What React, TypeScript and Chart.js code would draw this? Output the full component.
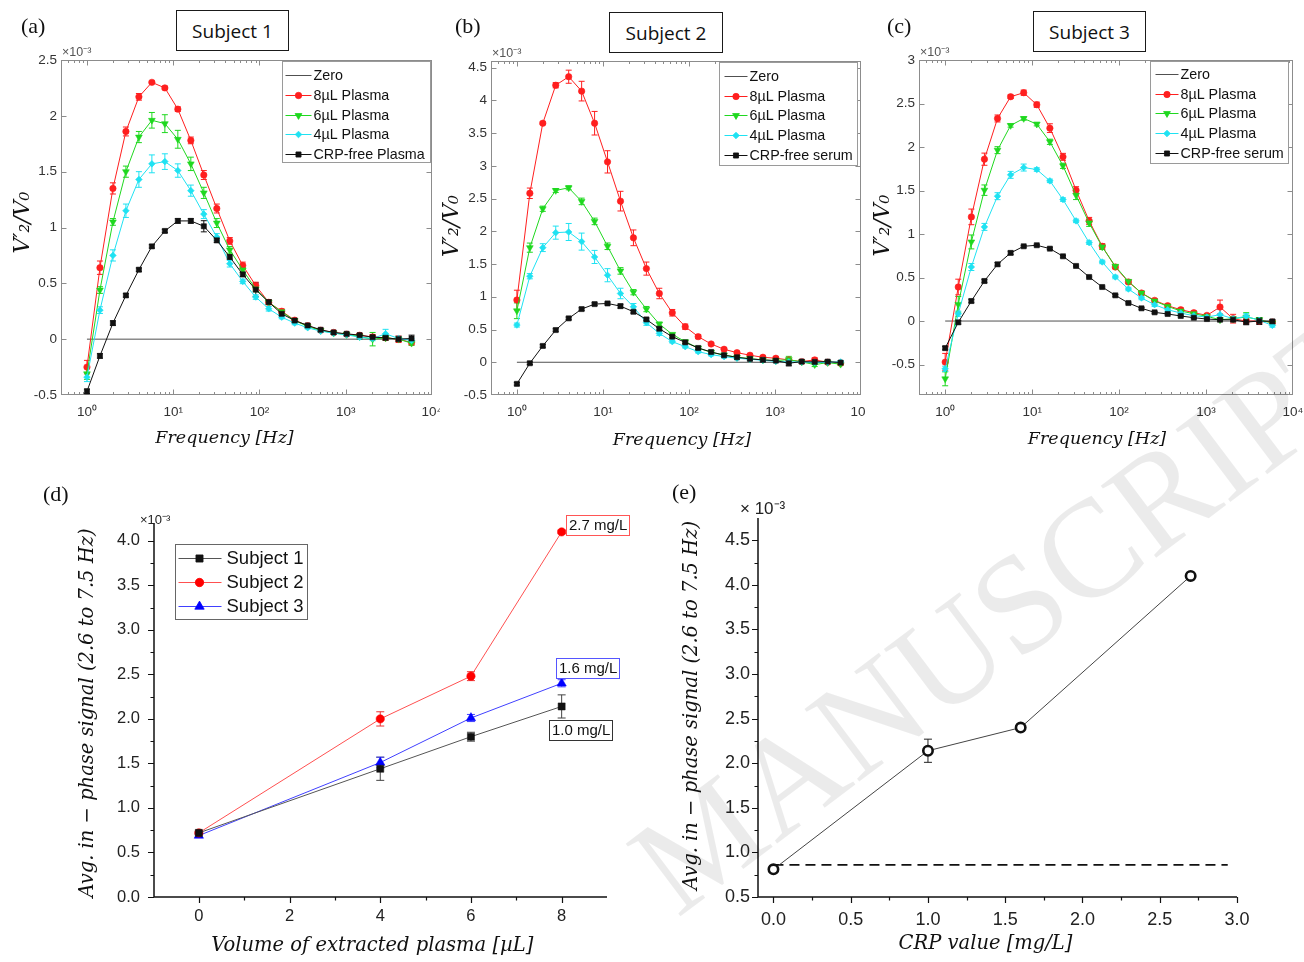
import React, { useEffect, useRef } from "react";
import { Chart, registerables } from "chart.js";

Chart.register(...registerables);

// ======================= DATA (values in units of 10^-3) =======================
const FREQ_HZ = [1, 1.414, 2, 2.828, 4, 5.657, 8, 11.31, 16, 22.63, 32, 45.25, 64, 90.51, 128, 181, 256, 362, 512, 724, 1024, 1448, 2048, 2896, 4096, 5793];
const FREQ_TICKS = [1, 10, 100, 1000, 10000];
const FREQ_TICK_LABELS = ["10⁰", "10¹", "10²", "10³", "10⁴"];
const ZERO_X = [1, 5793];
const ZERO_Y = [0, 0];

const LABELS_SUBJECT1 = ["Zero", "8µL Plasma", "6µL Plasma", "4µL Plasma", "CRP-free Plasma"];
const LABELS_SUBJECT23 = ["Zero", "8µL Plasma", "6µL Plasma", "4µL Plasma", "CRP-free serum"];

// Subject 1
const S1_8UL = [-0.25, 0.64, 1.35, 1.86, 2.17, 2.3, 2.25, 2.06, 1.78, 1.47, 1.17, 0.88, 0.66, 0.48, 0.33, 0.25, 0.17, 0.12, 0.08, 0.06, 0.045, 0.035, 0.02, 0.012, 0.0, -0.03];
const S1_8UL_ERR = [0.06, 0.06, 0.05, 0.04, 0.03, 0.01, 0.015, 0.02, 0.03, 0.04, 0.04, 0.03, 0.03, 0.03, 0.02, 0.02, 0.015, 0.015, 0.01, 0.01, 0.01, 0.015, 0.02, 0.02, 0.03, 0.02];
const S1_6UL = [-0.31, 0.44, 1.05, 1.5, 1.81, 1.96, 1.93, 1.79, 1.57, 1.31, 1.04, 0.8, 0.62, 0.45, 0.33, 0.245, 0.167, 0.114, 0.078, 0.054, 0.042, 0.024, 0.0, 0.012, 0.0, -0.036];
const S1_6UL_ERR = [0.05, 0.03, 0.03, 0.05, 0.05, 0.07, 0.08, 0.08, 0.06, 0.05, 0.04, 0.03, 0.02, 0.02, 0.02, 0.02, 0.015, 0.015, 0.01, 0.01, 0.01, 0.02, 0.06, 0.02, 0.02, 0.02];
const S1_4UL = [-0.34, 0.26, 0.75, 1.15, 1.43, 1.57, 1.59, 1.51, 1.33, 1.12, 0.915, 0.676, 0.517, 0.377, 0.272, 0.197, 0.144, 0.102, 0.072, 0.054, 0.039, 0.018, 0.006, 0.048, 0.006, -0.012];
const S1_4UL_ERR = [0.04, 0.03, 0.05, 0.06, 0.07, 0.08, 0.07, 0.06, 0.05, 0.04, 0.03, 0.03, 0.02, 0.02, 0.02, 0.015, 0.015, 0.01, 0.01, 0.01, 0.01, 0.02, 0.02, 0.04, 0.02, 0.02];
const S1_FREE = [-0.467, -0.15, 0.144, 0.392, 0.622, 0.831, 0.969, 1.059, 1.059, 1.011, 0.885, 0.736, 0.58, 0.443, 0.332, 0.227, 0.167, 0.123, 0.084, 0.06, 0.048, 0.036, 0.018, 0.012, 0.0, 0.006];
const S1_FREE_ERR = [0.02, 0.02, 0.02, 0.015, 0.015, 0.015, 0.015, 0.02, 0.02, 0.05, 0.02, 0.02, 0.02, 0.06, 0.02, 0.015, 0.015, 0.01, 0.01, 0.01, 0.01, 0.01, 0.01, 0.02, 0.02, 0.03];

// Subject 2
const S2_8UL = [0.95, 2.58, 3.65, 4.23, 4.36, 4.14, 3.65, 3.06, 2.46, 1.9, 1.43, 1.05, 0.756, 0.543, 0.391, 0.279, 0.198, 0.147, 0.107, 0.076, 0.061, 0.036, 0.01, 0.036, 0.0, -0.015];
const S2_8UL_ERR = [0.15, 0.08, 0.02, 0.04, 0.1, 0.15, 0.18, 0.17, 0.15, 0.12, 0.1, 0.08, 0.05, 0.04, 0.03, 0.02, 0.02, 0.02, 0.02, 0.02, 0.02, 0.02, 0.02, 0.03, 0.02, 0.02];
const S2_6UL = [0.786, 1.75, 2.344, 2.623, 2.664, 2.456, 2.151, 1.771, 1.395, 1.07, 0.812, 0.583, 0.426, 0.315, 0.218, 0.152, 0.112, 0.076, 0.056, 0.036, 0.025, 0.04, 0.005, -0.036, -0.005, -0.03];
const S2_6UL_ERR = [0.12, 0.07, 0.04, 0.03, 0.03, 0.05, 0.05, 0.05, 0.05, 0.04, 0.04, 0.03, 0.02, 0.02, 0.02, 0.02, 0.02, 0.02, 0.02, 0.02, 0.02, 0.05, 0.02, 0.03, 0.02, 0.02];
const S2_4UL = [0.568, 1.314, 1.75, 1.979, 1.989, 1.842, 1.608, 1.329, 1.05, 0.847, 0.604, 0.441, 0.315, 0.238, 0.162, 0.117, 0.086, 0.061, 0.046, 0.03, 0.015, 0.005, 0.005, -0.005, 0.0, 0.005];
const S2_4UL_ERR = [0.03, 0.04, 0.06, 0.1, 0.13, 0.13, 0.1, 0.1, 0.08, 0.05, 0.04, 0.03, 0.02, 0.02, 0.02, 0.02, 0.02, 0.02, 0.02, 0.02, 0.02, 0.02, 0.02, 0.02, 0.02, 0.02];
const S2_FREE = [-0.33, -0.015, 0.249, 0.492, 0.67, 0.812, 0.888, 0.898, 0.857, 0.771, 0.654, 0.512, 0.391, 0.304, 0.218, 0.157, 0.107, 0.076, 0.051, 0.036, 0.025, -0.015, 0.01, 0.005, 0.01, -0.005];
const S2_FREE_ERR = [0.02, 0.02, 0.02, 0.02, 0.02, 0.02, 0.02, 0.02, 0.03, 0.02, 0.02, 0.02, 0.02, 0.02, 0.02, 0.02, 0.02, 0.02, 0.02, 0.02, 0.02, 0.04, 0.02, 0.02, 0.02, 0.02];

// Subject 3
const S3_8UL = [-0.472, 0.391, 1.197, 1.86, 2.328, 2.578, 2.624, 2.486, 2.217, 1.887, 1.504, 1.151, 0.859, 0.621, 0.449, 0.322, 0.238, 0.176, 0.13, 0.096, 0.065, 0.161, 0.027, 0.0, 0.0, -0.012];
const S3_8UL_ERR = [0.1, 0.09, 0.09, 0.07, 0.04, 0.02, 0.03, 0.03, 0.05, 0.04, 0.04, 0.04, 0.03, 0.02, 0.02, 0.02, 0.02, 0.02, 0.02, 0.02, 0.02, 0.08, 0.05, 0.03, 0.03, 0.02];
const S3_6UL = [-0.664, 0.192, 0.909, 1.504, 1.964, 2.248, 2.328, 2.263, 2.06, 1.784, 1.446, 1.128, 0.852, 0.629, 0.456, 0.322, 0.23, 0.169, 0.115, 0.084, 0.054, 0.015, 0.027, 0.046, 0.015, -0.023];
const S3_6UL_ERR = [0.08, 0.09, 0.08, 0.06, 0.04, 0.02, 0.02, 0.02, 0.03, 0.03, 0.05, 0.04, 0.03, 0.02, 0.02, 0.02, 0.02, 0.02, 0.02, 0.02, 0.02, 0.02, 0.02, 0.05, 0.02, 0.02];
const S3_4UL = [-0.549, 0.084, 0.621, 1.082, 1.435, 1.68, 1.764, 1.741, 1.611, 1.396, 1.151, 0.901, 0.679, 0.506, 0.368, 0.265, 0.188, 0.13, 0.092, 0.061, 0.046, 0.073, 0.027, 0.054, 0.008, -0.05];
const S3_4UL_ERR = [0.03, 0.03, 0.04, 0.04, 0.04, 0.04, 0.04, 0.02, 0.02, 0.02, 0.02, 0.02, 0.02, 0.02, 0.02, 0.02, 0.02, 0.02, 0.02, 0.02, 0.02, 0.06, 0.02, 0.03, 0.02, 0.02];
const S3_FREE = [-0.311, -0.015, 0.23, 0.46, 0.652, 0.783, 0.859, 0.871, 0.832, 0.744, 0.633, 0.506, 0.391, 0.295, 0.207, 0.146, 0.1, 0.081, 0.058, 0.038, 0.023, 0.015, 0.015, -0.012, 0.0, -0.004];
const S3_FREE_ERR = [0.02, 0.02, 0.02, 0.02, 0.02, 0.02, 0.01, 0.01, 0.01, 0.01, 0.01, 0.01, 0.01, 0.01, 0.01, 0.01, 0.01, 0.01, 0.01, 0.01, 0.01, 0.01, 0.02, 0.03, 0.04, 0.02];

const A_Y_TICKS = [-0.5, 0, 0.5, 1, 1.5, 2, 2.5];
const B_Y_TICKS = [-0.5, 0, 0.5, 1, 1.5, 2, 2.5, 3, 3.5, 4, 4.5];
const C_Y_TICKS = [-0.5, 0, 0.5, 1, 1.5, 2, 2.5, 3];

// Panel (d)
const VOLUME_UL = [0, 4, 6, 8];
const D_LABELS = ["Subject 1", "Subject 2", "Subject 3"];
const D_SUBJ1 = [0.72, 1.44, 1.8, 2.14];
const D_SUBJ1_ERR = [0.02, 0.13, 0.05, 0.13];
const D_SUBJ2 = [0.72, 2.0, 2.48, 4.1];
const D_SUBJ2_ERR = [0.01, 0.08, 0.05, 0.02];
const D_SUBJ3 = [0.69, 1.51, 2.01, 2.4];
const D_SUBJ3_ERR = [0.02, 0.06, 0.04, 0.04];
const D_CRP_TAGS = ["1.0 mg/L", "2.7 mg/L", "1.6 mg/L"];
const D_X_TICKS = [0, 2, 4, 6, 8];
const D_X_MINOR = [1, 3, 5, 7];
const D_Y_TICKS = [0, 0.5, 1, 1.5, 2, 2.5, 3, 3.5, 4];
const D_Y_MINOR = [0.25, 0.75, 1.25, 1.75, 2.25, 2.75, 3.25, 3.75];

// Panel (e)
const CRP_MG_L = [0, 1.0, 1.6, 2.7];
const E_SIGNAL = [0.81, 2.14, 2.4, 4.1];
const E_SIGNAL_ERR = [0.02, 0.13, 0.03, 0.02];
const E_BASELINE_X = [0, 2.94];
const E_BASELINE_Y = [0.86, 0.86];
const E_X_TICKS = [0, 0.5, 1, 1.5, 2, 2.5, 3];
const E_X_MINOR = [0.25, 0.75, 1.25, 1.75, 2.25, 2.75];
const E_Y_TICKS = [0.5, 1, 1.5, 2, 2.5, 3, 3.5, 4, 4.5];
const E_Y_MINOR = [0.75, 1.25, 1.75, 2.25, 2.75, 3.25, 3.75, 4.25];

const FREQ_X_TITLE = "Frequency [Hz]";
const FREQ_Y_TITLE = "V′₂/V₀";
const D_X_TITLE = "Volume of extracted plasma [µL]";
const AVG_Y_TITLE = "Avg. in − phase signal (2.6 to 7.5 Hz)";
const E_X_TITLE = "CRP value [mg/L]";

// ======================= STYLE =======================
const SANS = "'Liberation Sans', Arial, Helvetica, sans-serif";
const SERIF_MATH = "'DejaVu Serif', 'Liberation Serif', serif";

type Marker = "circle" | "rect" | "rectRot" | "triangle";

interface SeriesStyle {
  color: string;
  marker: Marker | null;
  radius: number;
  rotation: number;
}

const MATLAB_STYLES: SeriesStyle[] = [
  { color: "#505050", marker: null, radius: 0, rotation: 0 },
  { color: "#ff1f1f", marker: "circle", radius: 3.2, rotation: 0 },
  { color: "#1fd81f", marker: "triangle", radius: 3.9, rotation: 180 },
  { color: "#1fe2f2", marker: "rectRot", radius: 3.3, rotation: 0 },
  { color: "#111111", marker: "rect", radius: 3.6, rotation: 0 },
];

// ======================= DRAW HELPERS =======================
function drawMarker(
  ctx: CanvasRenderingContext2D,
  m: Marker,
  x: number,
  y: number,
  r: number,
  rot: number,
  fill: string,
  stroke: string,
  lw: number
) {
  ctx.save();
  ctx.translate(x, y);
  ctx.rotate((rot * Math.PI) / 180);
  ctx.beginPath();
  if (m === "circle") ctx.arc(0, 0, r, 0, Math.PI * 2);
  else if (m === "rect") {
    const s = r * Math.SQRT1_2;
    ctx.rect(-s, -s, 2 * s, 2 * s);
  } else if (m === "rectRot") {
    ctx.moveTo(0, -r);
    ctx.lineTo(r, 0);
    ctx.lineTo(0, r);
    ctx.lineTo(-r, 0);
    ctx.closePath();
  } else {
    ctx.moveTo(0, -r);
    ctx.lineTo(r * 0.866, r * 0.5);
    ctx.lineTo(-r * 0.866, r * 0.5);
    ctx.closePath();
  }
  ctx.fillStyle = fill;
  ctx.fill();
  if (lw > 0) {
    ctx.strokeStyle = stroke;
    ctx.lineWidth = lw;
    ctx.stroke();
  }
  ctx.restore();
}

interface ErrSet {
  index: number;
  errors: number[];
  color: string;
  cap: number;
  width: number;
}

function errorBarsPlugin(sets: ErrSet[]) {
  return {
    id: "errorBars",
    beforeDatasetsDraw(chart: any) {
      const ctx: CanvasRenderingContext2D = chart.ctx;
      const ys = chart.scales.y;
      ctx.save();
      for (const s of sets) {
        const meta = chart.getDatasetMeta(s.index);
        const data = chart.data.datasets[s.index].data;
        meta.data.forEach((pt: any, i: number) => {
          const e = s.errors[i];
          if (!e) return;
          const v = data[i].y;
          const yT = ys.getPixelForValue(v + e);
          const yB = ys.getPixelForValue(v - e);
          ctx.strokeStyle = s.color;
          ctx.lineWidth = s.width;
          ctx.beginPath();
          ctx.moveTo(pt.x, yT);
          ctx.lineTo(pt.x, yB);
          ctx.moveTo(pt.x - s.cap, yT);
          ctx.lineTo(pt.x + s.cap, yT);
          ctx.moveTo(pt.x - s.cap, yB);
          ctx.lineTo(pt.x + s.cap, yB);
          ctx.stroke();
        });
      }
      ctx.restore();
    },
  };
}

function matlabAxesPlugin() {
  return {
    id: "matlabAxes",
    beforeDatasetsDraw(chart: any) {
      const ctx: CanvasRenderingContext2D = chart.ctx;
      const a = chart.chartArea;
      const xs = chart.scales.x;
      const ys = chart.scales.y;
      const L = Math.round(a.left) + 0.5;
      const R = Math.round(a.right) - 0.5;
      const T = Math.round(a.top) + 0.5;
      const B = Math.round(a.bottom) - 0.5;
      ctx.save();
      ctx.strokeStyle = "#8c8c8c";
      ctx.lineWidth = 1;
      ctx.strokeRect(L, T, R - L, B - T);
      ctx.beginPath();
      const major = 5;
      const minor = 2.5;
      for (const v of FREQ_TICKS) {
        const px = Math.round(xs.getPixelForValue(v)) + 0.5;
        if (px <= L + 1 || px >= R - 1) continue;
        ctx.moveTo(px, B);
        ctx.lineTo(px, B - major);
        ctx.moveTo(px, T);
        ctx.lineTo(px, T + major);
      }
      for (const d of [0.1, 1, 10, 100, 1000]) {
        for (let m = 2; m <= 9; m++) {
          const v = d * m;
          if (v <= xs.min || v >= xs.max) continue;
          const px = Math.round(xs.getPixelForValue(v)) + 0.5;
          ctx.moveTo(px, B);
          ctx.lineTo(px, B - minor);
          ctx.moveTo(px, T);
          ctx.lineTo(px, T + minor);
        }
      }
      ys.ticks.forEach((t: any) => {
        const py = Math.round(ys.getPixelForValue(t.value)) + 0.5;
        if (py <= T + 1 || py >= B - 1) return;
        ctx.moveTo(L, py);
        ctx.lineTo(L + major, py);
        ctx.moveTo(R, py);
        ctx.lineTo(R - major, py);
      });
      ctx.stroke();
      ctx.restore();
    },
  };
}

function originAxesPlugin(xMinor: number[], yMinor: number[]) {
  return {
    id: "originAxes",
    beforeDatasetsDraw(chart: any) {
      const ctx: CanvasRenderingContext2D = chart.ctx;
      const a = chart.chartArea;
      const xs = chart.scales.x;
      const ys = chart.scales.y;
      const L = Math.round(a.left);
      const B = Math.round(a.bottom);
      ctx.save();
      ctx.strokeStyle = "#111";
      ctx.lineWidth = 1.5;
      ctx.beginPath();
      ctx.moveTo(L, a.top);
      ctx.lineTo(L, B);
      ctx.lineTo(a.right, B);
      ctx.stroke();
      ctx.lineWidth = 1.2;
      ctx.beginPath();
      xs.ticks.forEach((t: any) => {
        const px = Math.round(xs.getPixelForValue(t.value)) + 0.5;
        ctx.moveTo(px, B);
        ctx.lineTo(px, B + 6);
      });
      xMinor.forEach((v) => {
        const px = Math.round(xs.getPixelForValue(v)) + 0.5;
        ctx.moveTo(px, B);
        ctx.lineTo(px, B + 3.5);
      });
      ys.ticks.forEach((t: any) => {
        const py = Math.round(ys.getPixelForValue(t.value)) + 0.5;
        ctx.moveTo(L, py);
        ctx.lineTo(L - 6, py);
      });
      yMinor.forEach((v) => {
        const py = Math.round(ys.getPixelForValue(v)) + 0.5;
        ctx.moveTo(L, py);
        ctx.lineTo(L - 3.5, py);
      });
      ctx.stroke();
      ctx.restore();
    },
  };
}

interface TitleCfg {
  xText: string;
  xFont: string;
  xDx: number;
  xDy: number;
  yText: string;
  yFont: string;
  yX: number;
  yDy: number;
}

// Axis titles placed relative to the chart area computed by Chart.js
function axisTitlesPlugin(cfg: TitleCfg) {
  return {
    id: "axisTitles",
    afterDraw(chart: any) {
      const ctx: CanvasRenderingContext2D = chart.ctx;
      const a = chart.chartArea;
      ctx.save();
      ctx.fillStyle = "#111";
      ctx.textAlign = "center";
      ctx.textBaseline = "middle";
      ctx.font = cfg.xFont;
      ctx.fillText(cfg.xText, (a.left + a.right) / 2 + cfg.xDx, a.bottom + cfg.xDy);
      ctx.translate(cfg.yX, (a.top + a.bottom) / 2 + cfg.yDy);
      ctx.rotate(-Math.PI / 2);
      ctx.font = cfg.yFont;
      ctx.fillText(cfg.yText, 0, 0);
      ctx.restore();
    },
  };
}

interface LegendItem {
  label: string;
  lineColor: string;
  markerColor: string;
  marker: Marker | null;
  radius: number;
  rotation: number;
}

interface LegendCfg {
  items: LegendItem[];
  fromRight: boolean;
  dx: number;
  dy: number;
  w: number;
  h: number;
  rowY: number[];
  lineX: [number, number];
  markerX: number;
  textX: number;
  font: string;
  border: string;
}

function boxLegendPlugin(cfg: LegendCfg) {
  return {
    id: "boxLegend",
    afterDatasetsDraw(chart: any) {
      const ctx: CanvasRenderingContext2D = chart.ctx;
      const a = chart.chartArea;
      const x0 = Math.round(cfg.fromRight ? a.right - cfg.dx - cfg.w : a.left + cfg.dx) + 0.5;
      const y0 = Math.round(a.top + cfg.dy) + 0.5;
      ctx.save();
      ctx.fillStyle = "#ffffff";
      ctx.fillRect(x0, y0, cfg.w, cfg.h);
      ctx.strokeStyle = cfg.border;
      ctx.lineWidth = 1;
      ctx.strokeRect(x0, y0, cfg.w, cfg.h);
      cfg.items.forEach((it, i) => {
        const y = y0 + cfg.rowY[i];
        ctx.strokeStyle = it.lineColor;
        ctx.lineWidth = 1;
        ctx.beginPath();
        ctx.moveTo(x0 + cfg.lineX[0], y);
        ctx.lineTo(x0 + cfg.lineX[1], y);
        ctx.stroke();
        if (it.marker) drawMarker(ctx, it.marker, x0 + cfg.markerX, y, it.radius, it.rotation, it.markerColor, it.markerColor, 0.8);
        ctx.fillStyle = "#111";
        ctx.font = cfg.font;
        ctx.textAlign = "left";
        ctx.textBaseline = "middle";
        ctx.fillText(it.label, x0 + cfg.textX, y + 0.5);
      });
      ctx.restore();
    },
  };
}

function exponentPlugin(text: string, dx: number, dy: number, font: string, color: string) {
  return {
    id: "exponentLabel",
    afterDraw(chart: any) {
      const ctx: CanvasRenderingContext2D = chart.ctx;
      const a = chart.chartArea;
      ctx.save();
      ctx.font = font;
      ctx.fillStyle = color;
      ctx.textAlign = "left";
      ctx.textBaseline = "alphabetic";
      ctx.fillText(text, a.left + dx, a.top + dy);
      ctx.restore();
    },
  };
}

interface PointTag {
  dataset: number;
  index: number;
  text: string;
  color: string;
  dx: number;
  dy: number;
}

function pointTagPlugin(tags: PointTag[], font: string) {
  return {
    id: "pointTags",
    afterDatasetsDraw(chart: any) {
      const ctx: CanvasRenderingContext2D = chart.ctx;
      ctx.save();
      ctx.font = font;
      for (const t of tags) {
        const pt = chart.getDatasetMeta(t.dataset).data[t.index];
        const tw = ctx.measureText(t.text).width;
        const w = Math.round(tw + 5);
        const h = 20;
        const x0 = Math.round(pt.x + t.dx) + 0.5;
        const y0 = Math.round(pt.y + t.dy) + 0.5;
        ctx.fillStyle = "#fff";
        ctx.fillRect(x0, y0, w, h);
        ctx.strokeStyle = t.color;
        ctx.lineWidth = 1;
        ctx.strokeRect(x0, y0, w, h);
        ctx.fillStyle = "#111";
        ctx.textAlign = "left";
        ctx.textBaseline = "middle";
        ctx.fillText(t.text, x0 + 2.5, y0 + h / 2 + 0.5);
      }
      ctx.restore();
    },
  };
}

// ======================= CONFIG BUILDERS =======================
interface Layout {
  padTop: number;
  padRight: number;
  yAxisW: number;
  xAxisH: number;
}

function hiddenTitle() {
  return { display: false };
}

function freqPanelConfig(p: {
  labels: string[];
  values: number[][];
  errors: number[][];
  yMin: number;
  yMax: number;
  yTicks: number[];
  layout: Layout;
  titles: { xDx: number; xDy: number; yX: number; yDy: number };
  legendDx: number;
  legendW: number;
  legendH: number;
  legendRows: number[];
  legendLine: [number, number];
}) {
  const n = p.labels.length;
  const datasets = p.labels.map((label, i) => {
    const st = MATLAB_STYLES[i];
    const xs = i === 0 ? ZERO_X : FREQ_HZ;
    const ys = i === 0 ? ZERO_Y : p.values[i - 1];
    return {
      label,
      data: xs.map((f, k) => ({ x: f, y: ys[k] })),
      borderColor: st.color,
      backgroundColor: st.color,
      borderWidth: 1,
      pointRadius: st.marker ? st.radius : 0,
      pointStyle: st.marker || "circle",
      pointRotation: st.rotation,
      pointBackgroundColor: st.color,
      pointBorderColor: st.color,
      pointBorderWidth: 0.6,
      tension: 0,
      fill: false,
      order: n - i,
    };
  });
  const errSets: ErrSet[] = p.errors.map((e, i) => ({
    index: i + 1,
    errors: e,
    color: MATLAB_STYLES[i + 1].color,
    cap: 3,
    width: 1,
  }));
  const legendItems: LegendItem[] = p.labels.map((label, i) => ({
    label,
    lineColor: MATLAB_STYLES[i].color,
    markerColor: MATLAB_STYLES[i].color,
    marker: MATLAB_STYLES[i].marker,
    radius: MATLAB_STYLES[i].radius,
    rotation: MATLAB_STYLES[i].rotation,
  }));
  const L = p.layout;
  return {
    type: "line",
    data: { datasets },
    options: {
      responsive: false,
      animation: false,
      events: [],
      layout: { padding: { top: L.padTop, right: L.padRight, left: 0, bottom: 0 } },
      plugins: { legend: { display: false }, tooltip: { enabled: false } },
      scales: {
        x: {
          type: "logarithmic",
          min: 0.5,
          max: 10000,
          afterBuildTicks: (s: any) => {
            s.ticks = FREQ_TICKS.map((v) => ({ value: v }));
          },
          afterFit: (s: any) => {
            s.height = L.xAxisH;
            s.paddingLeft = 0;
            s.paddingRight = 0;
          },
          grid: { display: false, drawTicks: false },
          border: { display: false },
          ticks: {
            autoSkip: false,
            maxRotation: 0,
            padding: 9,
            color: "#333",
            font: { family: SANS, size: 13.5 },
            callback: (_v: any, idx: number) => FREQ_TICK_LABELS[idx],
          },
          title: hiddenTitle(),
        },
        y: {
          type: "linear",
          min: p.yMin,
          max: p.yMax,
          afterBuildTicks: (s: any) => {
            s.ticks = p.yTicks.map((v) => ({ value: v }));
          },
          afterFit: (s: any) => {
            s.width = L.yAxisW;
            s.paddingTop = 0;
            s.paddingBottom = 0;
          },
          grid: { display: false, drawTicks: false },
          border: { display: false },
          ticks: {
            autoSkip: false,
            padding: 4,
            color: "#333",
            font: { family: SANS, size: 13.5 },
            callback: (v: any) => String(v),
          },
          title: hiddenTitle(),
        },
      },
    },
    plugins: [
      matlabAxesPlugin(),
      errorBarsPlugin(errSets),
      boxLegendPlugin({
        items: legendItems,
        fromRight: true,
        dx: p.legendDx,
        dy: 1,
        w: p.legendW,
        h: p.legendH,
        rowY: p.legendRows,
        lineX: p.legendLine,
        markerX: (p.legendLine[0] + p.legendLine[1]) / 2,
        textX: p.legendLine[1] + 2,
        font: `14.3px ${SANS}`,
        border: "#9a9a9a",
      }),
      exponentPlugin("×10⁻³", 1, -4, `12.5px ${SANS}`, "#555"),
      axisTitlesPlugin({
        xText: FREQ_X_TITLE,
        xFont: `italic 17.5px ${SERIF_MATH}`,
        xDx: p.titles.xDx,
        xDy: p.titles.xDy,
        yText: FREQ_Y_TITLE,
        yFont: `italic 22px ${SERIF_MATH}`,
        yX: p.titles.yX,
        yDy: p.titles.yDy,
      }),
    ],
  };
}

function panelDConfig() {
  const styles = [
    { line: "#555555", mark: "#111111", marker: "rect" as Marker, r: 5, err: "#444" },
    { line: "#ff5050", mark: "#ff0000", marker: "circle" as Marker, r: 4.2, err: "#e33" },
    { line: "#4040ff", mark: "#0000ff", marker: "triangle" as Marker, r: 5.4, err: "#44f" },
  ];
  const values = [D_SUBJ1, D_SUBJ2, D_SUBJ3];
  const errs = [D_SUBJ1_ERR, D_SUBJ2_ERR, D_SUBJ3_ERR];
  const datasets = D_LABELS.map((label, i) => ({
    label,
    data: VOLUME_UL.map((v, k) => ({ x: v, y: values[i][k] })),
    borderColor: styles[i].line,
    borderWidth: 1,
    pointStyle: styles[i].marker,
    pointRadius: styles[i].r,
    pointBackgroundColor: styles[i].mark,
    pointBorderColor: styles[i].mark,
    pointBorderWidth: 0.5,
    tension: 0,
    fill: false,
  }));
  return {
    type: "line",
    data: { datasets },
    options: {
      responsive: false,
      animation: false,
      events: [],
      layout: { padding: { top: 23, right: 33, left: 0, bottom: 0 } },
      plugins: { legend: { display: false }, tooltip: { enabled: false } },
      scales: {
        x: {
          type: "linear",
          min: -1,
          max: 9,
          afterBuildTicks: (s: any) => {
            s.ticks = D_X_TICKS.map((v) => ({ value: v }));
          },
          afterFit: (s: any) => {
            s.height = 65;
            s.paddingLeft = 0;
            s.paddingRight = 0;
          },
          grid: { display: false, drawTicks: false },
          border: { display: false },
          ticks: {
            autoSkip: false,
            maxRotation: 0,
            padding: 10,
            color: "#222",
            font: { family: SANS, size: 16.5 },
            callback: (v: any) => String(v),
          },
          title: hiddenTitle(),
        },
        y: {
          type: "linear",
          min: 0,
          max: 4.2,
          afterBuildTicks: (s: any) => {
            s.ticks = D_Y_TICKS.map((v) => ({ value: v }));
          },
          afterFit: (s: any) => {
            s.width = 113.5;
            s.paddingTop = 0;
            s.paddingBottom = 0;
          },
          grid: { display: false, drawTicks: false },
          border: { display: false },
          ticks: {
            autoSkip: false,
            padding: 13.5,
            color: "#222",
            font: { family: SANS, size: 16.5 },
            callback: (v: any) => Number(v).toFixed(1),
          },
          title: hiddenTitle(),
        },
      },
    },
    plugins: [
      originAxesPlugin(D_X_MINOR, D_Y_MINOR),
      errorBarsPlugin(errs.map((e, i) => ({ index: i, errors: e, color: styles[i].err, cap: 4, width: 1 }))),
      boxLegendPlugin({
        items: D_LABELS.map((label, i) => ({
          label,
          lineColor: styles[i].line,
          markerColor: styles[i].mark,
          marker: styles[i].marker,
          radius: styles[i].r,
          rotation: 0,
        })),
        fromRight: false,
        dx: 21.5,
        dy: 21,
        w: 132,
        h: 75,
        rowY: [14, 38, 62],
        lineX: [3, 46],
        markerX: 24,
        textX: 51,
        font: `18.5px ${SANS}`,
        border: "#666",
      }),
      pointTagPlugin(
        [
          { dataset: 1, index: 3, text: D_CRP_TAGS[1], color: "#ff5555", dx: 4, dy: -17 },
          { dataset: 2, index: 3, text: D_CRP_TAGS[2], color: "#5555ff", dx: -6, dy: -25 },
          { dataset: 0, index: 3, text: D_CRP_TAGS[0], color: "#333", dx: -13, dy: 14 },
        ],
        `15px ${SANS}`
      ),
      exponentPlugin("×10⁻³", -13.5, 1, `13px ${SANS}`, "#222"),
      axisTitlesPlugin({
        xText: D_X_TITLE,
        xFont: `italic 19.5px ${SERIF_MATH}`,
        xDx: -8,
        xDy: 49,
        yText: AVG_Y_TITLE,
        yFont: `italic 19.5px ${SERIF_MATH}`,
        yX: 48,
        yDy: 3,
      }),
    ],
  };
}

function panelEConfig() {
  const datasets = [
    {
      label: "Avg. in-phase signal",
      data: CRP_MG_L.map((v, k) => ({ x: v, y: E_SIGNAL[k] })),
      borderColor: "#444",
      borderWidth: 1,
      pointStyle: "circle",
      pointRadius: 4.7,
      pointBackgroundColor: "#fff",
      pointBorderColor: "#111",
      pointBorderWidth: 2.6,
      tension: 0,
      fill: false,
    },
    {
      label: "CRP-free baseline",
      data: E_BASELINE_X.map((v, k) => ({ x: v, y: E_BASELINE_Y[k] })),
      borderColor: "#111",
      borderWidth: 1.6,
      borderDash: [10, 6],
      pointRadius: 0,
      tension: 0,
      fill: false,
    },
  ];
  return {
    type: "line",
    data: { datasets },
    options: {
      responsive: false,
      animation: false,
      events: [],
      layout: { padding: { top: 23, right: 67, left: 0, bottom: 0 } },
      plugins: { legend: { display: false }, tooltip: { enabled: false } },
      scales: {
        x: {
          type: "linear",
          min: -0.1,
          max: 3.0,
          afterBuildTicks: (s: any) => {
            s.ticks = E_X_TICKS.map((v) => ({ value: v }));
          },
          afterFit: (s: any) => {
            s.height = 65;
            s.paddingLeft = 0;
            s.paddingRight = 0;
          },
          grid: { display: false, drawTicks: false },
          border: { display: false },
          ticks: {
            autoSkip: false,
            maxRotation: 0,
            padding: 12,
            color: "#222",
            font: { family: SANS, size: 18 },
            callback: (v: any) => Number(v).toFixed(1),
          },
          title: hiddenTitle(),
        },
        y: {
          type: "linear",
          min: 0.5,
          max: 4.75,
          afterBuildTicks: (s: any) => {
            s.ticks = E_Y_TICKS.map((v) => ({ value: v }));
          },
          afterFit: (s: any) => {
            s.width = 108;
            s.paddingTop = 0;
            s.paddingBottom = 0;
          },
          grid: { display: false, drawTicks: false },
          border: { display: false },
          ticks: {
            autoSkip: false,
            padding: 8,
            color: "#222",
            font: { family: SANS, size: 18 },
            callback: (v: any) => Number(v).toFixed(1),
          },
          title: hiddenTitle(),
        },
      },
    },
    plugins: [
      originAxesPlugin(E_X_MINOR, E_Y_MINOR),
      errorBarsPlugin([{ index: 0, errors: E_SIGNAL_ERR, color: "#222", cap: 4, width: 1 }]),
      exponentPlugin("× 10⁻³", -18, -4, `17px ${SANS}`, "#222"),
      axisTitlesPlugin({
        xText: E_X_TITLE,
        xFont: `italic 19.5px ${SERIF_MATH}`,
        xDx: -12,
        xDy: 47,
        yText: AVG_Y_TITLE,
        yFont: `italic 19.5px ${SERIF_MATH}`,
        yX: 42,
        yDy: -2,
      }),
    ],
  };
}

// ======================= COMPONENTS =======================
function ChartCanvas(props: { left: number; top: number; width: number; height: number; build: () => any }) {
  const ref = useRef<HTMLCanvasElement | null>(null);
  useEffect(() => {
    if (!ref.current) return;
    const chart = new Chart(ref.current, props.build());
    return () => chart.destroy();
  }, []);
  return (
    <canvas
      ref={ref}
      width={props.width}
      height={props.height}
      style={{ position: "absolute", left: props.left, top: props.top, width: props.width, height: props.height }}
    />
  );
}

function PanelLabel(props: { text: string; left: number; top: number }) {
  return (
    <div
      style={{
        position: "absolute",
        left: props.left,
        top: props.top,
        fontFamily: "'Liberation Serif', 'Times New Roman', serif",
        fontSize: 22,
        lineHeight: "24px",
        color: "#111",
      }}
    >
      {props.text}
    </div>
  );
}

function SubjectBox(props: { text: string; left: number; top: number; width: number; height: number }) {
  return (
    <div
      style={{
        position: "absolute",
        left: props.left,
        top: props.top,
        width: props.width,
        height: props.height,
        boxSizing: "border-box",
        border: "1.6px solid #1a1a1a",
        fontFamily: "'Open Sans', 'Noto Sans', sans-serif",
        fontSize: 19,
        color: "#111",
        display: "flex",
        alignItems: "center",
        justifyContent: "center",
        background: "#fff",
      }}
    >
      {props.text}
    </div>
  );
}

export default function App() {
  return (
    <div
      style={{
        position: "absolute",
        left: 0,
        top: 0,
        width: 1304,
        height: 962,
        overflow: "hidden",
        background: "#fff",
      }}
    >
      <ChartCanvas
        left={0}
        top={36}
        width={440}
        height={424}
        build={() =>
          freqPanelConfig({
            labels: LABELS_SUBJECT1,
            values: [S1_8UL, S1_6UL, S1_4UL, S1_FREE],
            errors: [S1_8UL_ERR, S1_6UL_ERR, S1_4UL_ERR, S1_FREE_ERR],
            yMin: -0.5,
            yMax: 2.5,
            yTicks: A_Y_TICKS,
            layout: { padTop: 24, padRight: 8, yAxisW: 61, xAxisH: 65 },
            titles: { xDx: -22, xDy: 43, yX: 23, yDy: -5 },
            legendDx: 2,
            legendW: 148,
            legendH: 101,
            legendRows: [14, 34, 54, 73, 93],
            legendLine: [3, 29],
          })
        }
      />
      <ChartCanvas
        left={440}
        top={36}
        width={426}
        height={424}
        build={() =>
          freqPanelConfig({
            labels: LABELS_SUBJECT23,
            values: [S2_8UL, S2_6UL, S2_4UL, S2_FREE],
            errors: [S2_8UL_ERR, S2_6UL_ERR, S2_4UL_ERR, S2_FREE_ERR],
            yMin: -0.5,
            yMax: 4.6,
            yTicks: B_Y_TICKS,
            layout: { padTop: 25, padRight: 5, yAxisW: 51, xAxisH: 65 },
            titles: { xDx: 6, xDy: 45, yX: 12, yDy: -2 },
            legendDx: 4,
            legendW: 138,
            legendH: 103,
            legendRows: [14, 34, 53, 73, 93],
            legendLine: [5, 28],
          })
        }
      />
      <ChartCanvas
        left={866}
        top={36}
        width={438}
        height={424}
        build={() =>
          freqPanelConfig({
            labels: LABELS_SUBJECT23,
            values: [S3_8UL, S3_6UL, S3_4UL, S3_FREE],
            errors: [S3_8UL_ERR, S3_6UL_ERR, S3_4UL_ERR, S3_FREE_ERR],
            yMin: -0.85,
            yMax: 3,
            yTicks: C_Y_TICKS,
            layout: { padTop: 24, padRight: 11, yAxisW: 53, xAxisH: 65 },
            titles: { xDx: -9, xDy: 44, yX: 17, yDy: -2 },
            legendDx: 5,
            legendW: 138,
            legendH: 102,
            legendRows: [13, 33, 52, 72, 92],
            legendLine: [5, 28],
          })
        }
      />
      <ChartCanvas left={40} top={500} width={600} height={462} build={panelDConfig} />
      <ChartCanvas left={650} top={495} width={654} height={467} build={panelEConfig} />

      <PanelLabel text="(a)" left={21} top={14} />
      <PanelLabel text="(b)" left={455} top={14} />
      <PanelLabel text="(c)" left={887} top={14} />
      <PanelLabel text="(d)" left={43} top={482} />
      <PanelLabel text="(e)" left={672} top={480} />

      <SubjectBox text="Subject 1" left={176} top={10} width={113} height={41} />
      <SubjectBox text="Subject 2" left={609} top={12} width={114} height={41} />
      <SubjectBox text="Subject 3" left={1033} top={11} width={113} height={41} />

      <div
        style={{
          position: "absolute",
          left: 1007,
          top: 612,
          transform: "translate(-50%, -50%) rotate(-37deg)",
          whiteSpace: "nowrap",
          fontFamily: "'Liberation Serif', 'Times New Roman', serif",
          fontSize: 139,
          color: "rgba(0,0,0,0.08)",
          pointerEvents: "none",
          lineHeight: 1,
        }}
      >
        MANUSCRIPT
      </div>
    </div>
  );
}
